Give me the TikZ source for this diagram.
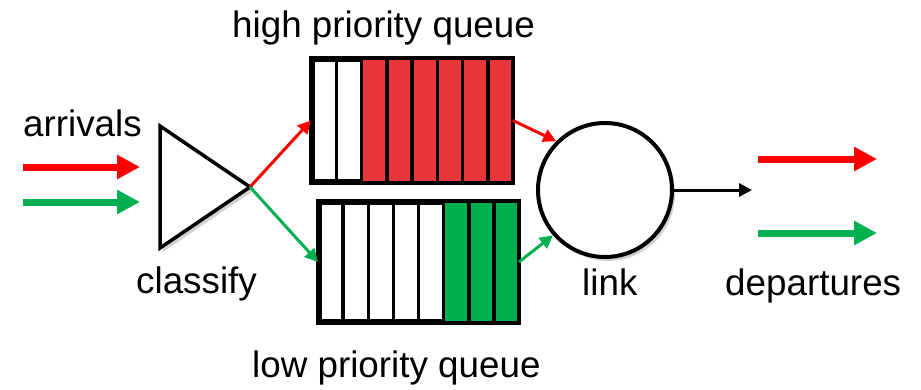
\documentclass[tikz,border=0pt]{standalone}
\usepackage{fontspec}
\setmainfont{Liberation Sans}
\usetikzlibrary{calc, shadows, arrows.meta}

\definecolor{qred}{HTML}{E8363A}
\definecolor{qgreen}{HTML}{00B050}

\begin{document}
\begin{tikzpicture}[x=1pt, y=-1pt,
    lbl/.style={anchor=base west, inner sep=0pt, font=\fontsize{36.8}{40}\selectfont},
    queuebox/.style={draw, line width=4pt, minimum width=198pt, minimum height=121pt,
      inner sep=0pt, fill=white, drop shadow={shadow xshift=3pt, shadow yshift=-4pt, opacity=0.35}},
    fat/.style={line width=7pt, -{Triangle[length=23pt, width=23pt]}},
    thin/.style={line width=3pt, -{Triangle[length=13pt, width=13pt]}}
  ]
  \useasboundingbox (0,0) rectangle (921,389);

  % the two queues
  \node[queuebox] (hq) at (412,120.5) {};
  \node[queuebox, minimum width=197pt, minimum height=118pt] (lq) at (418.5,262) {};
  \fill[qred] ($(hq.north west)!2/8!(hq.north east)$) rectangle (hq.south east);
  \fill[qgreen] ($(lq.north west)!5/8!(lq.north east)$) rectangle (lq.south east);
  \foreach \i in {1,...,7} {
    \draw[line width=3.5pt] ($(hq.north west)!\i/8!(hq.north east)$) -- ($(hq.south west)!\i/8!(hq.south east)$);
    \draw[line width=3.5pt] ($(lq.north west)!\i/8!(lq.north east)$) -- ($(lq.south west)!\i/8!(lq.south east)$);
  }
  \draw[line width=4pt] (hq.north west) rectangle (hq.south east);
  \draw[line width=4pt] (lq.north west) rectangle (lq.south east);

  % classifier and link
  \coordinate (cls) at (250,187);
  \draw[line width=3.5pt, line join=miter, fill=white,
    drop shadow={shadow xshift=3pt, shadow yshift=-4pt, opacity=0.35}]
    (160,126) -- (cls) -- (160,248) -- cycle;
  \node[circle, draw, line width=4pt, minimum size=134pt, fill=white,
    drop shadow={shadow xshift=3pt, shadow yshift=-4pt, opacity=0.35}] (link) at (605,190) {};

  % arrivals and departures
  \coordinate (ar1) at (23,167);   \coordinate (ar2) at (140,167);
  \coordinate (ag1) at (23,202);   \coordinate (ag2) at (140,202);
  \coordinate (dr1) at (758,159);  \coordinate (dr2) at (877,159);
  \coordinate (dg1) at (758,233);  \coordinate (dg2) at (877,233);
  \coordinate (out) at (752,190);
  \draw[fat, red] (ar1) -- (ar2);
  \draw[fat, qgreen] (ag1) -- (ag2);
  \draw[fat, red] (dr1) -- (dr2);
  \draw[fat, qgreen] (dg1) -- (dg2);

  % paths through the scheduler
  \draw[thin, red] (cls) -- (hq.west);
  \draw[thin, qgreen] (cls) -- (lq.west);
  \draw[thin, red] (hq.east) -- (link.135);
  \draw[thin, qgreen] (lq.east) -- (link.221);
  \draw[thin, black] (link.east) -- (out);

  % labels
  \node[lbl] (tarr) at (23,136) {arrivals};
  \node[lbl] (thq) at (232,37) {high priority queue};
  \node[lbl] (tlq) at (252,377) {low priority queue};
  \node[lbl] (tcls) at (136,293) {classify};
  \node[lbl] (tlink) at (582,295) {link};
  \node[lbl] (tdep) at (725,295) {departures};
\end{tikzpicture}
\end{document}
